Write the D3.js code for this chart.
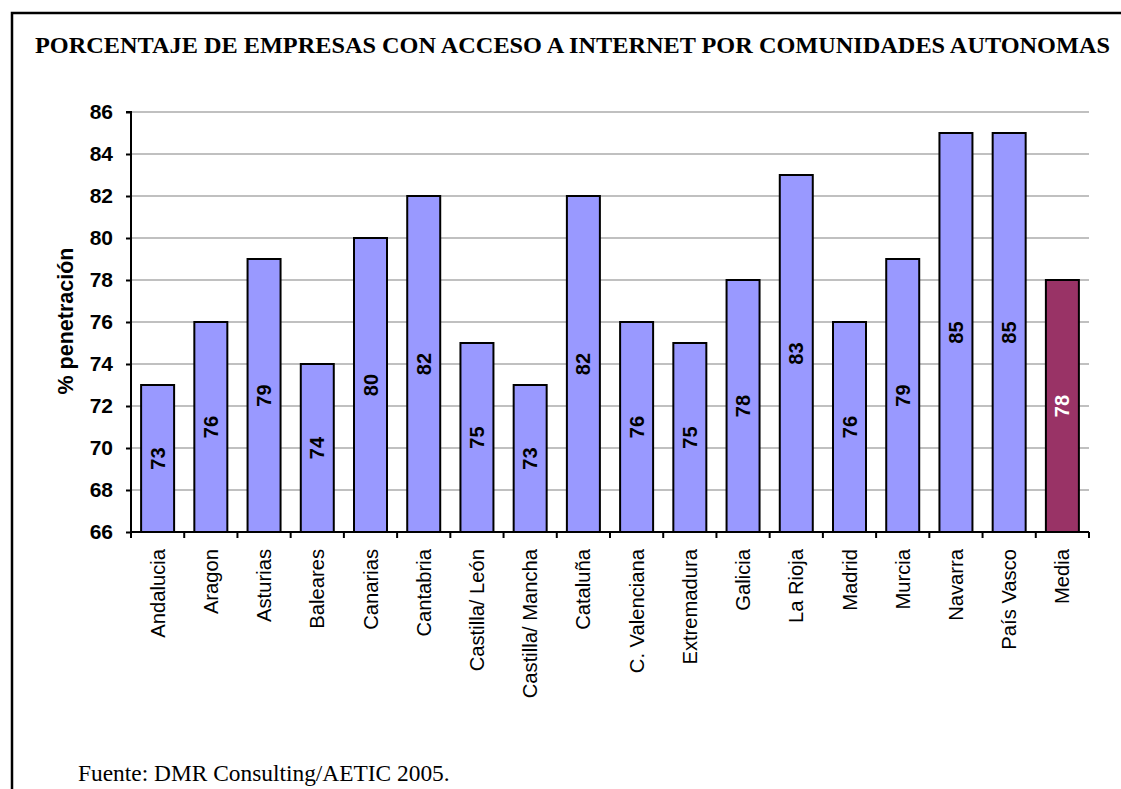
<!DOCTYPE html>
<html><head><meta charset="utf-8">
<script src="https://cdn.jsdelivr.net/npm/d3@7"></script>
<style>body{margin:0;background:#fff}svg{display:block}</style>
</head><body>
<svg id="c" width="1121" height="789"></svg>
<script>
const categories = ["Andalucia","Aragon","Asturias","Baleares","Canarias","Cantabria","Castilla/ León","Castilla/ Mancha","Cataluña","C. Valenciana","Extremadura","Galicia","La Rioja","Madrid","Murcia","Navarra","País Vasco","Media"];
const values = [73,76,79,74,80,82,75,73,82,76,75,78,83,76,79,85,85,78];
const yTicks = [66,68,70,72,74,76,78,80,82,84,86];
const title = "PORCENTAJE DE EMPRESAS CON ACCESO A INTERNET POR COMUNIDADES AUTONOMAS";
const source = "Fuente: DMR Consulting/AETIC 2005.";
const yLabel = "% penetración";

const sans = "Liberation Sans, Arial, sans-serif";
const serif = "Liberation Serif, Times New Roman, serif";
const svg = d3.select("#c");
// frame
svg.append("path").attr("d","M12,789 L12,13 L1121,13").attr("fill","none").attr("stroke","#000").attr("stroke-width",2.5);
svg.append("text").attr("x",35).attr("y",53).attr("font-family",serif).attr("font-weight","bold").attr("font-size",23.5)
  .attr("textLength",1075).attr("lengthAdjust","spacingAndGlyphs").text(title);
svg.append("text").attr("x",78).attr("y",781).attr("font-family",serif).attr("font-size",23.4).text(source);

const x = d3.scaleBand().domain(categories).range([131,1089]).paddingInner(0.38).paddingOuter(0.19);
const y = d3.scaleLinear().domain([66,86]).range([532,112]);

// grid
svg.append("g").selectAll("line").data(yTicks.filter(d=>d>66)).join("line")
  .attr("x1",131).attr("x2",1089).attr("y1",d=>y(d)).attr("y2",d=>y(d))
  .attr("stroke","#c0c0c0").attr("stroke-width",2);

// bars
svg.append("g").selectAll("rect").data(values).join("rect")
  .attr("x",(d,i)=>x(categories[i])).attr("width",x.bandwidth())
  .attr("y",d=>y(d)).attr("height",d=>y(66)-y(d))
  .attr("fill",(d,i)=>categories[i]==="Media"?"#993366":"#9999FF")
  .attr("stroke","#000").attr("stroke-width",2);

// bar labels
svg.append("g").selectAll("text").data(values).join("text")
  .attr("transform",(d,i)=>`translate(${x(categories[i])+x.bandwidth()/2+7},${(y(d)+y(66))/2}) rotate(-90)`)
  .attr("text-anchor","middle")
  .attr("font-family",sans).attr("font-weight","bold").attr("font-size",20)
  .attr("fill",(d,i)=>categories[i]==="Media"?"#fff":"#000")
  .text(d=>d);

// y axis
const ya = svg.append("g").attr("transform","translate(131,0)")
  .call(d3.axisLeft(y).tickValues(yTicks).tickSize(5).tickPadding(13));
ya.select(".domain").attr("stroke","#000").attr("stroke-width",2).attr("d","M-5,112H0V532");
ya.selectAll(".tick line").attr("stroke","#000").attr("stroke-width",2);
ya.selectAll(".tick text").attr("font-family",sans).attr("font-weight","bold").attr("font-size",21).attr("fill","#000");

// x axis
const xa = svg.append("g").attr("transform","translate(0,532)")
  .call(d3.axisBottom(x).tickSize(0).tickFormat(""));
xa.select(".domain").attr("stroke","#000").attr("stroke-width",2).attr("d","M131,0H1089");
xa.selectAll(".tick").remove();
const step = (1089-131)/categories.length;
svg.append("g").selectAll("line").data(d3.range(categories.length+1)).join("line")
  .attr("x1",i=>131+i*step).attr("x2",i=>131+i*step).attr("y1",532).attr("y2",538)
  .attr("stroke","#000").attr("stroke-width",2);
svg.append("g").selectAll("text").data(categories).join("text")
  .attr("transform",c=>`translate(${x(c)+x.bandwidth()/2+7},549) rotate(-90)`)
  .attr("text-anchor","end")
  .attr("font-family",sans).attr("font-size",20.2)
  .text(c=>c);

svg.append("text").attr("transform","translate(73,321) rotate(-90)").attr("text-anchor","middle")
  .attr("font-family",sans).attr("font-weight","bold").attr("font-size",21.5).text(yLabel);
</script>
</body></html>
